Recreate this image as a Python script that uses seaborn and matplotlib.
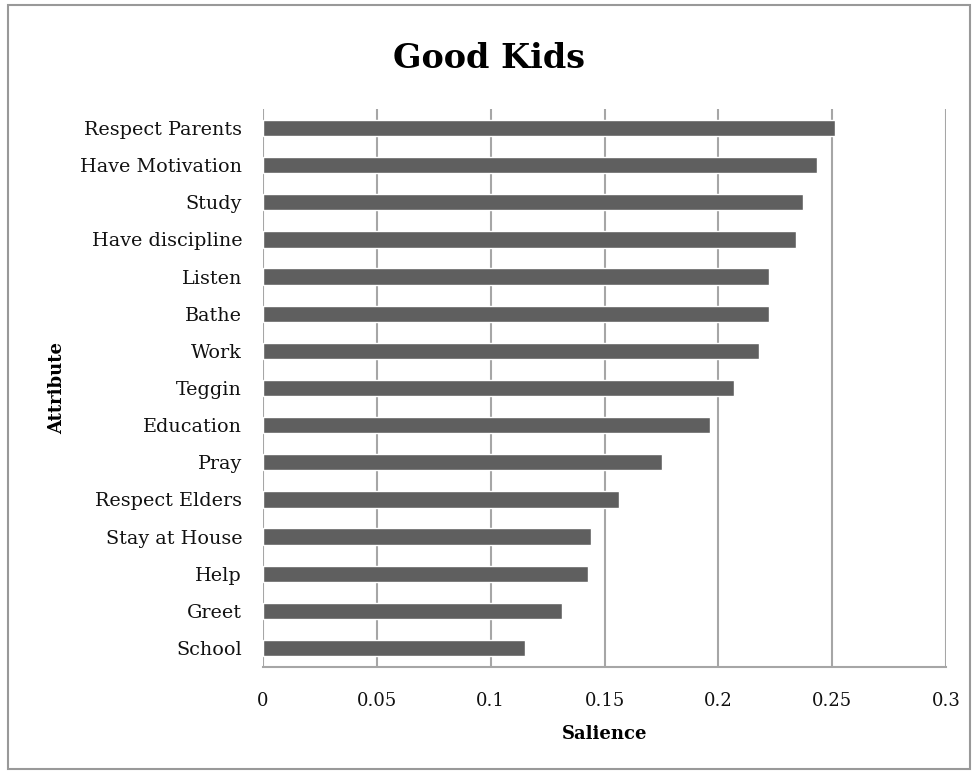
import matplotlib
matplotlib.use("Agg")
import matplotlib.pyplot as plt
import seaborn as sns
import pandas as pd
from matplotlib.patches import Rectangle

# -------------------------
# Data
# -------------------------
attributes = ["Respect Parents", "Have Motivation", "Study", "Have discipline",
              "Listen", "Bathe", "Work", "Teggin", "Education", "Pray",
              "Respect Elders", "Stay at House", "Help", "Greet", "School"]
salience = [0.2514, 0.2433, 0.2370, 0.2341, 0.2222, 0.2222, 0.2180, 0.2070,
            0.1965, 0.1754, 0.1564, 0.1442, 0.1429, 0.1315, 0.1149]
x_ticks = [0, 0.05, 0.1, 0.15, 0.2, 0.25, 0.3]
x_tick_labels = ["0", "0.05", "0.1", "0.15", "0.2", "0.25", "0.3"]

df = pd.DataFrame({"Attribute": attributes, "Salience": salience})

sns.set_style("white")
serif = ["DejaVu Serif"]
grid_col = "#a6a6a6"

fig = plt.figure(figsize=(9.78, 7.74), dpi=100)
ax = fig.add_axes([0.2689, 0.1388, 0.6984, 0.7199])

sns.barplot(data=df, x="Salience", y="Attribute", color="#5f5f5f",
            width=0.44, saturation=1, ax=ax, zorder=3)

ax.set_xlim(0, 0.3)
ax.set_xticks(x_ticks)
ax.set_xticklabels(x_tick_labels, fontfamily=serif, fontsize=13, color="#111111")
ax.set_yticks(range(len(attributes)))
ax.set_yticklabels(attributes, fontfamily=serif, fontsize=13.8, color="#111111")
ax.tick_params(axis="y", length=0, pad=15)
ax.tick_params(axis="x", length=6, width=1.5, color=grid_col, pad=12, direction="out")

ax.grid(axis="x", color=grid_col, linewidth=1.5, zorder=0)
ax.set_axisbelow(True)
for side in ["top", "right", "left"]:
    ax.spines[side].set_visible(False)
ax.spines["bottom"].set_color(grid_col)
ax.spines["bottom"].set_linewidth(1.5)

ax.set_xlabel("Salience", fontfamily=serif, fontweight="bold",
              fontsize=13, labelpad=11, color="black")
ax.set_ylabel("Attribute", fontfamily=serif, fontweight="bold", fontsize=13,
              labelpad=10, color="black")

fig.text(0.5, 0.925, "Good Kids", ha="center", va="center", fontfamily=serif,
         fontweight="bold", fontsize=24, color="black")

# chart border
fig.patches.append(Rectangle((0.008, 0.006), 0.984, 0.988, transform=fig.transFigure,
                             fill=False, edgecolor="#999999", linewidth=1.5))

fig.savefig("out.png", dpi=100)
